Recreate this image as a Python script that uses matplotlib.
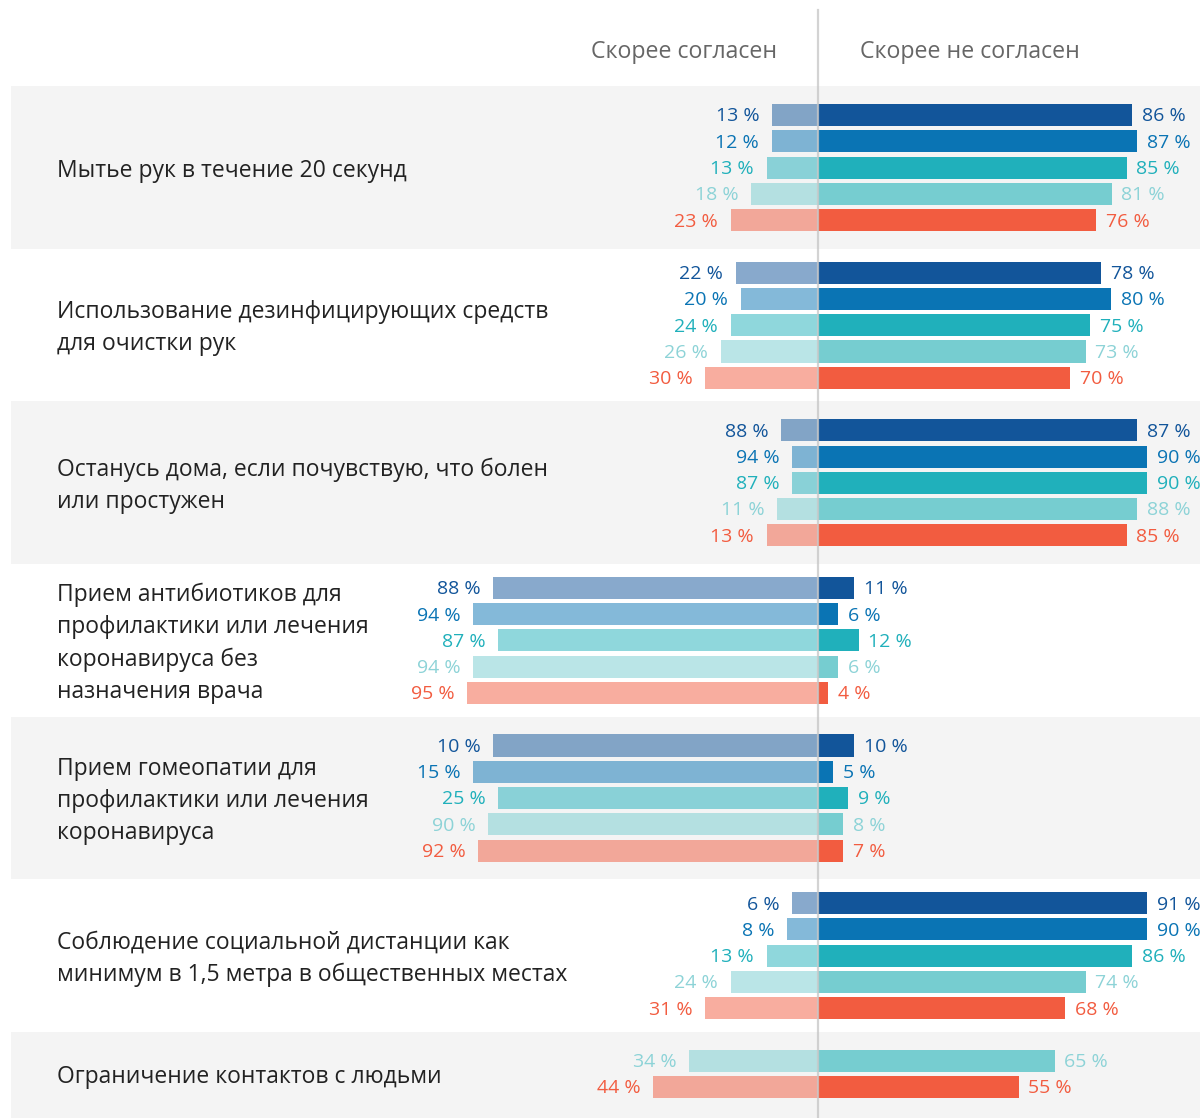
import matplotlib
matplotlib.use("Agg")
import matplotlib.pyplot as plt
from matplotlib.patches import Rectangle

# categories (top to bottom)
categories = [
    "Мытье рук в течение 20 секунд",
    "Использование дезинфицирующих средств\nдля очистки рук",
    "Останусь дома, если почувствую, что болен\nили простужен",
    "Прием антибиотиков для\nпрофилактики или лечения\nкоронавируса без\nназначения врача",
    "Прием гомеопатии для\nпрофилактики или лечения\nкоронавируса",
    "Соблюдение социальной дистанции как\nминимум в 1,5 метра в общественных местах",
    "Ограничение контактов с людьми",
]

header_left = "Скорее согласен"
header_right = "Скорее не согласен"

# printed labels, per category, per series (None = series missing)
agree_labels = [
    [13, 12, 13, 18, 23],
    [22, 20, 24, 26, 30],
    [88, 94, 87, 11, 13],
    [88, 94, 87, 94, 95],
    [10, 15, 25, 90, 92],
    [6, 8, 13, 24, 31],
    [None, None, None, 34, 44],
]
disagree_labels = [
    [86, 87, 85, 81, 76],
    [78, 80, 75, 73, 70],
    [87, 90, 90, 88, 85],
    [11, 6, 12, 6, 4],
    [10, 5, 9, 8, 7],
    [91, 90, 86, 74, 68],
    [None, None, None, 65, 55],
]

# bar lengths as drawn in the picture (%)
agree_bars = [
    [12.7, 12.7, 14.1, 18.4, 23.9],
    [22.5, 21.2, 23.9, 26.7, 31.0],
    [10.0, 7.0, 7.0, 11.3, 14.1],
    [88.9, 94.5, 87.5, 94.5, 96.0],
    [88.9, 94.5, 87.5, 90.3, 93.1],
    [7.0, 8.4, 14.1, 23.9, 31.0],
    [None, None, None, 35.3, 45.2],
]
disagree_bars = [
    [86.0, 87.4, 84.5, 80.4, 76.1],
    [77.5, 80.3, 74.6, 73.3, 69.1],
    [87.4, 90.2, 90.2, 87.4, 84.5],
    [9.8, 5.6, 11.1, 5.6, 2.7],
    [9.8, 4.1, 8.3, 6.9, 6.9],
    [90.2, 90.2, 86.0, 73.3, 67.7],
    [None, None, None, 64.8, 54.9],
]

series_colors = ['#12559a', '#0a74b4', '#20b0bb', '#76cdd0', '#f25c40']
label_colors = ['#12559a', '#0a74b4', '#20b0bb', '#8dd3d7', '#f25c40']

plt.rcParams['font.family'] = ['Open Sans', 'DejaVu Sans']

fig = plt.figure(figsize=(12, 11.18), dpi=100)
ax = fig.add_axes([0, 0, 1, 1])
ax.set_xlim(-224.0, 104.6)
ax.set_ylim(38.18, -4.38)
ax.axis('off')

bar_h = 0.84
group_step = 6

for g, cat in enumerate(categories):
    base = g * group_step
    # alternating background bands
    if g % 2 == 0:
        top = base - 1.1
        bottom = base + 5.1 if g < len(categories) - 1 else 40
        ax.add_patch(Rectangle((-221, top), 400, bottom - top,
                               facecolor='#f4f4f4', edgecolor='none', zorder=0))
    rows = []
    r = 0
    for s in range(5):
        if agree_bars[g][s] is None:
            continue
        y = base + r
        rows.append(y)
        c = series_colors[s]
        ax.barh(y, -agree_bars[g][s], height=bar_h, color=c, alpha=0.5, zorder=2)
        ax.barh(y, disagree_bars[g][s], height=bar_h, color=c, zorder=2)
        ax.annotate(f"{agree_labels[g][s]} %", (-agree_bars[g][s], y),
                    xytext=(-9, -1), textcoords='offset points',
                    ha='right', va='center', fontsize=14, color=label_colors[s])
        ax.annotate(f"{disagree_labels[g][s]} %", (disagree_bars[g][s], y),
                    xytext=(7, -1), textcoords='offset points',
                    ha='left', va='center', fontsize=14, color=label_colors[s])
        r += 1
    yc = (rows[0] + rows[-1]) / 2 + 0.12
    ax.text(0.0475, yc, cat, transform=ax.get_yaxis_transform(),
            ha='left', va='center', fontsize=16.5, color='#222222', linespacing=1.45)

# center line
ax.plot([0, 0], [-4.0, 38.2], color='#c8c8c8', lw=1.6, alpha=0.8, zorder=3)

ax.text(-11.2, -2.4, header_left, ha='right', va='center', fontsize=16.7, color='#666666')
ax.text(11.5, -2.4, header_right, ha='left', va='center', fontsize=16.7, color='#666666')

plt.savefig('out.png', dpi=100)
